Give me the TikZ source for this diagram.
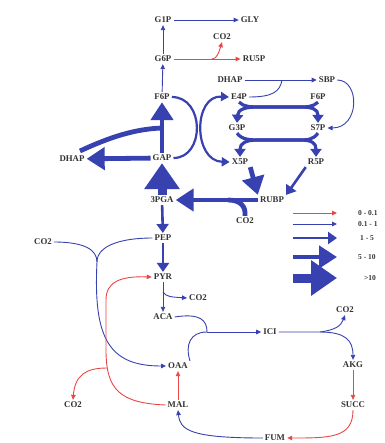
\documentclass[tikz,border=0pt]{standalone}
\usepackage{fontspec}
\setmainfont{Liberation Serif}
\usetikzlibrary{arrows.meta}
\definecolor{myblue}{RGB}{55,65,175}
\definecolor{myred}{RGB}{235,70,70}
\begin{document}
\begin{tikzpicture}[x=1pt,y=-1pt,
 lbl/.style={font=\fontsize{8.8}{10}\selectfont\bfseries, text=black!80, inner sep=2pt},
 legl/.style={font=\fontsize{7.5}{8}\selectfont\bfseries, text=black!80, anchor=west, inner sep=0pt},
 thinln/.style={draw=myblue, line width=0.9pt},
 thinar/.style={thinln, -{Triangle[length=5pt,width=4.5pt]}},
 redln/.style={draw=myred, line width=0.9pt},
 redar/.style={redln, -{Triangle[length=5pt,width=4.5pt]}},
 medln/.style={draw=myblue, line width=2.6pt},
 medar/.style={medln, -{Triangle[length=9pt,width=12pt]}},
 xar/.style={draw=myblue, line width=2.2pt, {Triangle[length=8pt,width=9pt]}-{Triangle[length=8pt,width=9pt]}},
 xln/.style={draw=myblue, line width=2.2pt},
 tkln/.style={draw=myblue, line width=3.2pt},
 tkar/.style={tkln, -{Triangle[length=8pt,width=11pt]}},
 thkln/.style={draw=myblue, line width=4.8pt},
 thkar/.style={thkln, -{Triangle[length=18pt,width=22pt]}},
 vthkar/.style={draw=myblue, line width=9pt, -{Triangle[length=26pt,width=34pt]}},
]
\useasboundingbox (0,0) rectangle (384,443);

% nodes
\node[lbl] (G1P) at (163,20) {G1P};
\node[lbl] (GLY) at (250,20) {GLY};
\node[lbl] (CO2a) at (222,37) {CO2};
\node[lbl] (G6P) at (163,59) {G6P};
\node[lbl] (RU5P) at (254,59) {RU5P};
\node[lbl] (F6P) at (162,97) {F6P};
\node[lbl] (DHAPt) at (230,80) {DHAP};
\node[lbl] (SBP) at (327,80) {SBP};
\node[lbl] (E4P) at (239,97) {E4P};
\node[lbl] (F6Pr) at (318,97) {F6P};
\node[lbl] (G3P) at (237,128) {G3P};
\node[lbl] (S7P) at (318,128) {S7P};
\node[lbl] (DHAPl) at (72,159) {DHAP};
\node[lbl] (GAP) at (162,158) {GAP};
\node[lbl] (X5P) at (240,162) {X5P};
\node[lbl] (R5P) at (316,162) {R5P};
\node[lbl] (PGA) at (162,200) {3PGA};
\node[lbl] (RUBP) at (272,200) {RUBP};
\node[lbl] (CO2b) at (245,221) {CO2};
\node[lbl] (PEP) at (163,238) {PEP};
\node[lbl] (CO2c) at (43,242) {CO2};
\node[lbl] (PYR) at (163,277) {PYR};
\node[lbl] (CO2d) at (198,298) {CO2};
\node[lbl] (ACA) at (163,317) {ACA};
\node[lbl] (ICI) at (270,332) {ICI};
\node[lbl] (CO2e) at (345,310) {CO2};
\node[lbl] (OAA) at (178,366) {OAA};
\node[lbl] (AKG) at (353,365) {AKG};
\node[lbl] (CO2f) at (73,405) {CO2};
\node[lbl] (MAL) at (178,405) {MAL};
\node[lbl] (SUCC) at (353,405) {SUCC};
\node[lbl] (FUM) at (275,438) {FUM};

% junction coordinates
\coordinate (j1) at (212,59);
\coordinate (jF) at (162,128);
\coordinate (jR) at (228,200);
\coordinate (jD) at (282,80);
\coordinate (jP) at (163,292);
\coordinate (jC) at (97,262);
\coordinate (jM) at (107,368);
\coordinate (jI) at (207,332);
\coordinate (jK) at (320,332);
\coordinate (dh) at (80,151);

% top
\draw[thinar] (G6P) -- (G1P);
\draw[thinar] (G1P) -- (GLY);
\draw[redar] (G6P) -- (RU5P);
\draw[redar] (j1) .. controls (217,59) and (219,52) .. (CO2a.south);
\draw[thinar] (F6P) -- (G6P);

% gluconeogenesis / Calvin
\draw[thkln] (dh) .. controls (110,137) and (135,129) .. (jF);
\draw[thkar] (GAP) -- (F6P);
\draw[thkar] (GAP) -- (DHAPl);
\draw[vthkar] (PGA) -- (GAP);
\draw[thkar] (RUBP) -- (PGA);
\draw[thkln] (CO2b.north) .. controls (246,206) and (240,200) .. (jR);

% cross ")("
\draw[xln] (F6P.east) .. controls (205,97) and (205,158) .. (GAP.east);
\draw[xar] (E4P.west) .. controls (193,95) and (193,161) .. (X5P.west);

% SBP branch
\draw[thinar] (DHAPt) -- (SBP);
\draw[thinln] (E4P.east) .. controls (272,97) and (280,92) .. (jD);
\draw[thinar] (SBP.east) .. controls (360,80) and (360,128) .. (S7P.east);

% transketolase bars
\draw[tkar] (E4P.south) .. controls (244,107) and (250,107) .. (262,107) -- (300,107) .. controls (312,107) and (318,109) .. (S7P.north);
\draw[tkar] (F6Pr.south) .. controls (313,107) and (307,107) .. (298,107) -- (258,107) .. controls (246,107) and (238,109) .. (G3P.north);
\draw[tkar] (G3P.south) .. controls (242,140) and (250,140) .. (262,140) -- (300,140) .. controls (312,140) and (316,143) .. (R5P.north);
\draw[tkar] (S7P.south) .. controls (313,140) and (307,140) .. (298,140) -- (258,140) .. controls (246,140) and (240,143) .. (X5P.north);

\draw[thkar] (X5P.south east) -- (RUBP.north west);
\draw[medar] (R5P.south west) -- (RUBP.north east);

% lower glycolysis
\draw[medar] (PGA) -- (PEP);
\draw[medar] (PEP) -- (PYR);
\draw[thinar] (PYR) -- (ACA);
\draw[thinar] (jP) .. controls (166,297) and (172,297) .. (CO2d.west);

% PEP carboxylation
\draw[thinln] (CO2c.east) .. controls (85,242) and (97,250) .. (jC);
\draw[thinln] (PEP.west) .. controls (120,238) and (97,246) .. (jC);
\draw[thinar] (jC) .. controls (93,340) and (110,366) .. (OAA.west);

% malic enzyme
\draw[redar] (MAL.west) .. controls (120,403) and (106,390) .. (106,350) -- (106,300) .. controls (106,282) and (120,276) .. (PYR.west);
\draw[redar] (jM) .. controls (86,368) and (75,375) .. (CO2f.north);
\draw[redar] (MAL) -- (OAA);

% TCA
\draw[thinln] (ACA.east) .. controls (200,313) and (207,320) .. (jI);
\draw[thinln] (OAA.north east) .. controls (185,345) and (190,332) .. (jI);
\draw[thinar] (jI) -- (ICI.west);
\draw[thinar] (ICI.east) -- (jK) .. controls (345,332) and (353,340) .. (AKG.north);
\draw[thinar] (jK) .. controls (335,330) and (341,326) .. (CO2e.south);
\draw[redar] (AKG) -- (SUCC);
\draw[redar] (SUCC.south) .. controls (353,438) and (330,438) .. (FUM.east);
\draw[thinar] (FUM.west) .. controls (190,438) and (180,430) .. (MAL.south);

% legend
\coordinate (L1a) at (293,213); \coordinate (L1b) at (337,213);
\coordinate (L2a) at (293,224); \coordinate (L2b) at (337,224);
\coordinate (L3a) at (293,238); \coordinate (L3b) at (337,238);
\coordinate (L4a) at (293,257); \coordinate (L4b) at (337,257);
\coordinate (L5a) at (293,278); \coordinate (L5b) at (337,278);
\draw[redar] (L1a) -- (L1b);
\draw[thinar] (L2a) -- (L2b);
\draw[medar] (L3a) -- (L3b);
\draw[thkar] (L4a) -- (L4b);
\draw[vthkar] (L5a) -- (L5b);
\node[legl] (T1) at (358,213) {0 - 0.1};
\node[legl] (T2) at (358,224) {0.1 - 1};
\node[legl] (T3) at (360,238) {1 - 5};
\node[legl] (T4) at (358,257) {5 - 10};
\node[legl] (T5) at (364,278) {>10};
\end{tikzpicture}
\end{document}
